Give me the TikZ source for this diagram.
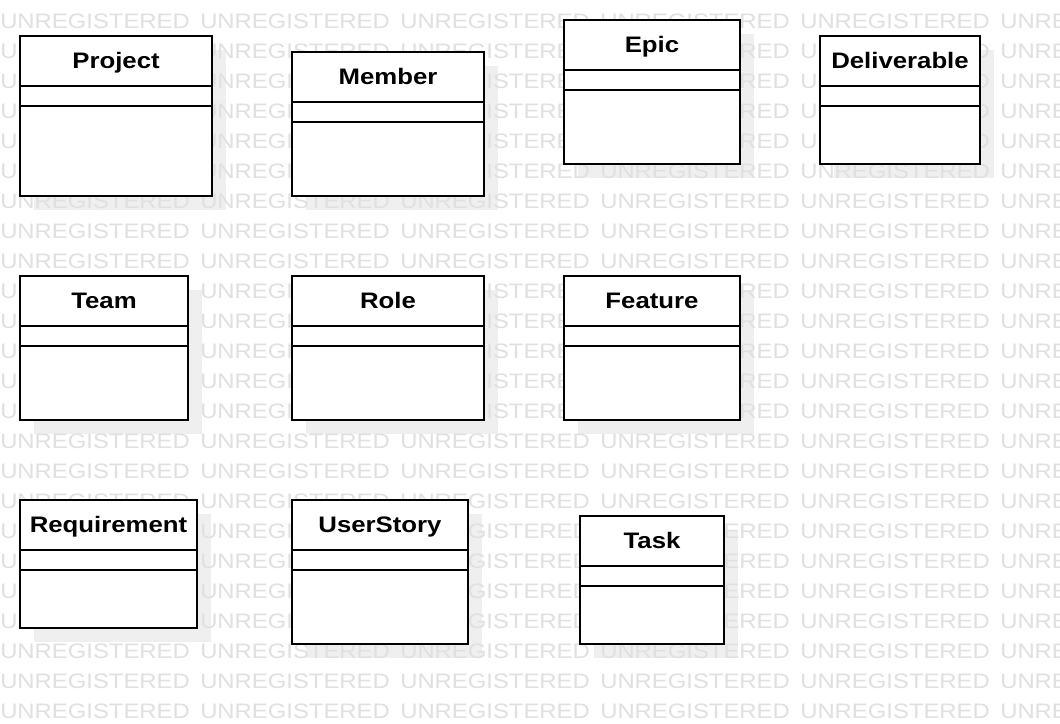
\documentclass[tikz,border=0pt]{standalone}
\usepackage{fontspec}
\setmainfont{Liberation Sans}
\newfontfamily\wmfont[FakeStretch=1.14]{Liberation Sans}
\newfontfamily\ttlfont[FakeStretch=1.15]{Liberation Sans}
\definecolor{wmgray}{HTML}{E0E0E0}
\definecolor{shadowgray}{HTML}{EFEFEF}
\tikzset{
  classbox/.style={draw=black, line width=1.5pt, fill=white, inner sep=0pt, outer sep=0pt},
  titletext/.style={font=\ttlfont\bfseries\fontsize{16.8pt}{18pt}\selectfont, inner sep=0pt},
  wm/.style={font=\wmfont\fontsize{15.7pt}{17pt}\selectfont, text=wmgray, inner sep=0pt, anchor=base west},
  rule/.style={draw=black, line width=1.5pt},
  shadowbox/.style={fill=shadowgray}
}
\def\classes{Project/20/36/212/196, Member/292/52/484/196, Epic/564/20/740/164, Deliverable/820/36/980/164,
Team/20/276/188/420, Role/292/276/484/420, Feature/564/276/740/420,
Requirement/20/500/197/628, UserStory/292/500/468/644, Task/580/516/724/644}
\begin{document}
\begin{tikzpicture}[x=0.75pt,y=-0.75pt]
\useasboundingbox (0,0) rectangle (1060,724);
\fill[white] (0,0) rectangle (1060,724);
% shadows
\foreach \n/\xa/\ya/\xb/\yb in \classes {
  \fill[shadowbox] (\xa+14,\ya+14) rectangle (\xb+14,\yb+14);
}
% watermark
\foreach \k in {0,...,23} {
  \foreach \c in {0,200,400,600,800,1000} {
    \node[wm] (wm-\k-\c) at (\c,28.3+30*\k) {UNREGISTERED};
  }
}
% classes
\foreach \n/\xa/\ya/\xb/\yb in \classes {
  \pgfmathsetmacro\w{(\xb-\xa)*0.75}
  \pgfmathsetmacro\h{(\yb-\ya)*0.75}
  \pgfmathsetmacro\wpx{\xb-\xa}
  \node[classbox, minimum width=\w pt, minimum height=\h pt] (\n) at ({(\xa+\xb)/2},{(\ya+\yb)/2}) {};
  \node[titletext, anchor=base] (\n-t) at ({(\xa+\xb)/2},\ya+32.3) {\n};
  \draw[rule] (\n.north west) ++(0,50) -- ++(\wpx,0);
  \draw[rule] (\n.north west) ++(0,70) -- ++(\wpx,0);
}
\end{tikzpicture}
\end{document}
